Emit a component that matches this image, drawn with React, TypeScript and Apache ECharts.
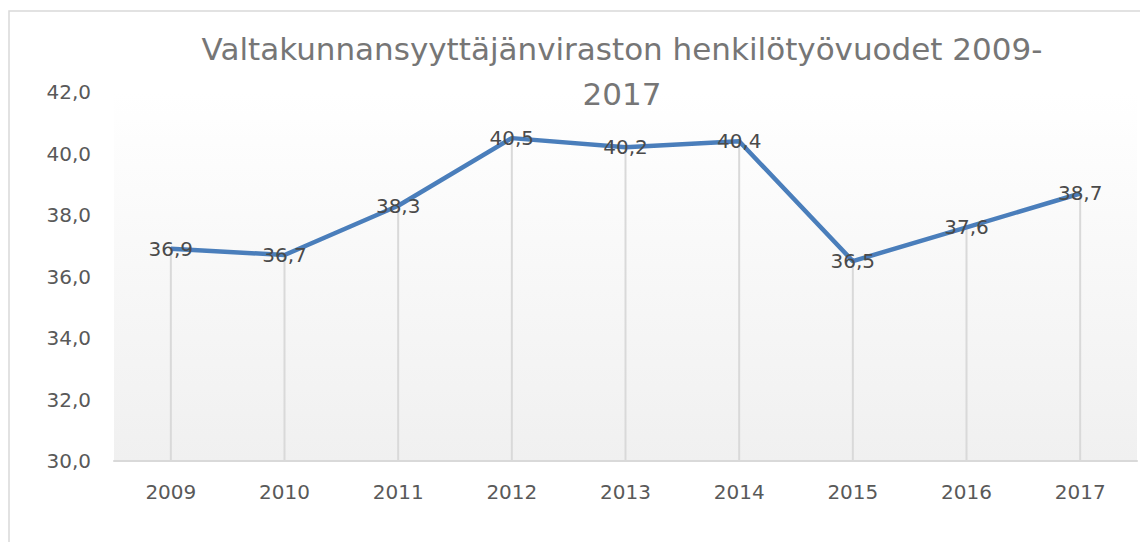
import React, { useEffect, useRef } from "react";
import * as echarts from "echarts";

const titleText = "Valtakunnansyyttäjänviraston henkilötyövuodet 2009-\n2017";
const years = ["2009", "2010", "2011", "2012", "2013", "2014", "2015", "2016", "2017"];
const values = [36.9, 36.7, 38.3, 40.5, 40.2, 40.4, 36.5, 37.6, 38.7];
const yMin = 30;
const yMax = 42;
const yStep = 2;

const fmt = (v: number) => v.toFixed(1).replace(".", ",");

export default function App() {
  const ref = useRef<HTMLDivElement>(null);
  useEffect(() => {
    if (!ref.current) return;
    const chart = echarts.init(ref.current, undefined, { renderer: "svg" });
    const font = "DejaVu Sans";
    chart.setOption({
      animation: false,
      backgroundColor: "#ffffff",
      title: {
        text: titleText,
        left: 609,
        textAlign: "center",
        top: 13,
        textStyle: {
          fontFamily: font,
          fontSize: 31,
          fontWeight: "normal",
          color: "#767676",
          lineHeight: 45,
        },
      },
      graphic: [
        {
          type: "rect",
          shape: { x: 1, y: 3, width: 1300, height: 700 },
          style: { fill: "none", stroke: "#d9d9d9", lineWidth: 1.5 },
          silent: true,
          z: -10,
        },
      ],
      grid: {
        left: 106,
        right: 11,
        top: 84,
        bottom: 81,
        show: true,
        borderWidth: 0,
        backgroundColor: new echarts.graphic.LinearGradient(0, 0, 0, 1, [
          { offset: 0, color: "#ffffff" },
          { offset: 1, color: "#f0f0f0" },
        ]),
      },
      xAxis: {
        type: "category",
        data: years,
        boundaryGap: true,
        axisLine: { show: true, lineStyle: { color: "#d9d9d9", width: 2 } },
        axisTick: { show: false },
        splitLine: { show: false },
        axisLabel: {
          fontFamily: font,
          fontSize: 20,
          color: "#595959",
          margin: 21,
        },
      },
      yAxis: {
        type: "value",
        min: yMin,
        max: yMax,
        interval: yStep,
        axisLine: { show: false },
        axisTick: { show: false },
        splitLine: { show: false },
        axisLabel: {
          fontFamily: font,
          fontSize: 20,
          color: "#595959",
          margin: 23,
          formatter: (v: number) => fmt(v),
        },
      },
      series: [
        {
          type: "bar",
          data: values,
          barWidth: 2,
          itemStyle: { color: "#d9d9d9" },
          silent: true,
          z: 1,
        },
        {
          type: "line",
          data: values,
          symbol: "circle",
          symbolSize: 2,
          showSymbol: true,
          itemStyle: { color: "rgba(0,0,0,0)", borderWidth: 0 },
          lineStyle: { color: "#4a7ebb", width: 4.5 },
          z: 3,
          label: {
            show: true,
            position: "inside",
            fontFamily: font,
            fontSize: 20,
            color: "#4a4a4a",
            formatter: (p: any) => fmt(p.value),
          },
        },
      ],
    });
    return () => chart.dispose();
  }, []);
  return <div ref={ref} style={{ width: 1140, height: 534 }} />;
}
